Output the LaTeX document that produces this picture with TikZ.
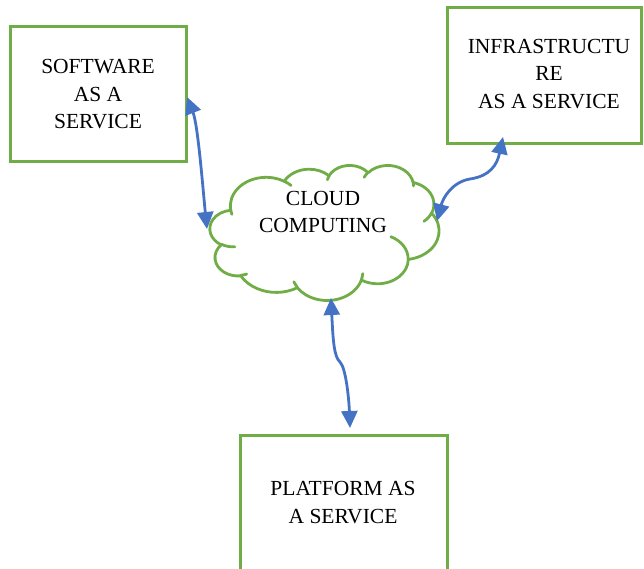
\documentclass[tikz,border=0pt]{standalone}
\usepackage{fontspec}
\setmainfont{Liberation Serif}
\usetikzlibrary{arrows.meta}
\definecolor{boxgreen}{HTML}{70AD47}
\definecolor{arrowblue}{HTML}{4472C4}
\newcommand\oarc[4]{arc[x radius=#1, y radius=#2, start angle={atan2(#1*sin(#3),#2*cos(#3))}, delta angle={mod(atan2(#1*sin(#3+#4),#2*cos(#3+#4))-atan2(#1*sin(#3),#2*cos(#3))+720,360)}]}
\tikzset{
  svcbox/.style={draw=boxgreen, line width=3pt, fill=white, inner sep=0pt},
  lbl/.style={align=center, font=\fontsize{21.5}{27.5}\selectfont, inner sep=0pt},
  conn/.style={draw=arrowblue, line width=2.8pt, {Triangle[length=17pt,width=16pt]}-{Triangle[length=17pt,width=16pt]}},
  cloudline/.style={draw=boxgreen, line width=2.8pt, line join=round, line cap=round}
}
\begin{document}
\begin{tikzpicture}[x=1pt,y=-1pt]
\useasboundingbox (0,0) rectangle (644,569);
\clip (0,0) rectangle (644,569);
% boxes
\node[svcbox, minimum width=176pt, minimum height=135pt] (saas) at (98,94.5) {};
\node[lbl] (saast) at (98,94.5) {SOFTWARE\\AS A\\SERVICE};
\node[svcbox, minimum width=194pt, minimum height=136pt] (iaas) at (544,76) {};
\node[lbl] (iaast) at (549,74) {INFRASTRUCTU\\RE\\AS A SERVICE};
\node[svcbox, minimum width=207pt, minimum height=140pt] (paas) at (343.5,505) {};
\node[lbl] (paast) at (343,502.5) {PLATFORM AS\\A SERVICE};
% cloud outline
\begin{scope}[shift={(210,165)}, x=0.53009pt, y=-0.31250pt]
\draw[cloudline] (39.00,143.70)
  \oarc{67.53}{91.90}{-190.4875}{123.7805}
  \oarc{53.33}{72.67}{-144.1024}{89.9452}
  \oarc{43.65}{59.45}{-145.8079}{99.7230}
  \oarc{48.57}{65.95}{-130.9861}{117.2417}
  \oarc{53.33}{72.73}{-78.7089}{109.0269}
  \oarc{67.75}{92.20}{-46.2673}{130.2690}
  \oarc{57.85}{78.67}{0.6250}{114.0333}
  \oarc{67.52}{92.15}{22.4516}{115.1726}
  \oarc{77.20}{105.43}{66.2426}{75.7110}
  \oarc{43.60}{59.18}{-274.9421}{146.7356}
  \oarc{43.45}{59.45}{-246.8285}{152.5189} -- cycle;
\draw[cloudline] (46.93,261.77) \oarc{43.45}{59.45}{86.742}{26.4295};
\draw[cloudline] (69.28,348.99) \oarc{43.60}{59.18}{73.6105}{11.4475};
\draw[cloudline] (164.78,390.90) \oarc{67.52}{92.15}{137.6242}{14.0811};
\draw[cloudline] (288.27,347.51) \oarc{67.52}{92.15}{6.4533}{15.9984};
\draw[cloudline] (341.29,229.54) \oarc{57.85}{78.67}{-70.2924}{70.9174};
\draw[cloudline] (417.98,153.54) \oarc{53.33}{72.73}{30.3180}{27.7515};
\draw[cloudline] (383.24,54.26) \oarc{48.57}{65.95}{-13.7443}{14.8589};
\draw[cloudline] (290.78,39.52) \oarc{48.57}{65.95}{-149.1815}{18.1954};
\draw[cloudline] (221.41,47.20) \oarc{43.65}{59.45}{-163.4943}{17.6864};
\draw[cloudline] (140.00,51.92) \oarc{67.53}{91.90}{-66.7070}{12.3194};
\draw[cloudline] (41.27,157.89) \oarc{67.53}{91.90}{157.6544}{11.8582};
\end{scope}
\node[lbl] (cloud) at (323,212) {CLOUD\\COMPUTING};
% connector end points
\coordinate (s1) at (187,97);
\coordinate (s2) at (207,229);
\coordinate (i1) at (503,137);
\coordinate (i2) at (437,221);
\coordinate (p1) at (331,298);
\coordinate (p2) at (350,428);
\coordinate (im) at (470,179);
\coordinate (pm) at (340,362);
% connectors
\draw[conn] (s1) .. controls (198,125) and (203,190) .. (s2);
\draw[conn] (i1) .. controls (497,165) and (490,176) .. (im) .. controls (452,182) and (443,198) .. (i2);
\draw[conn] (p1) .. controls (333,340) and (334,357) .. (pm) .. controls (346,368) and (349,400) .. (p2);
\end{tikzpicture}
\end{document}
